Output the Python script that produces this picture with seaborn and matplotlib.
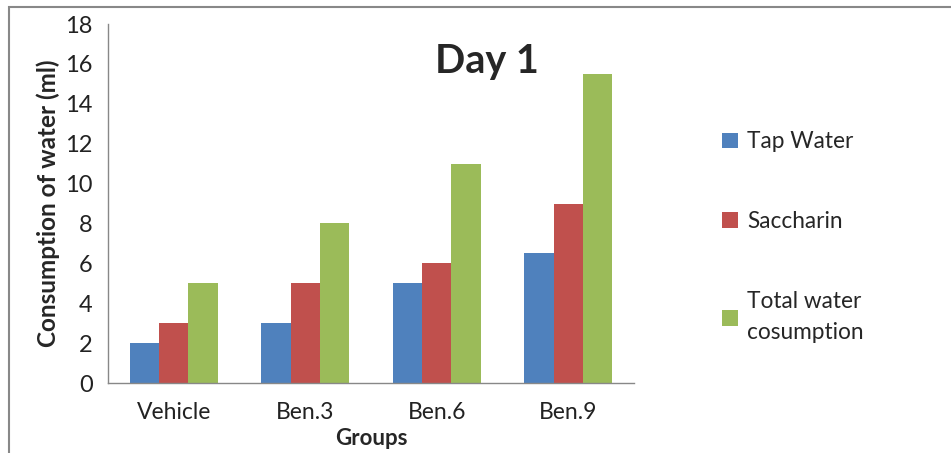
import matplotlib
matplotlib.use("Agg")
import matplotlib.pyplot as plt
import seaborn as sns
import pandas as pd
from matplotlib.patches import Rectangle

groups = ["Vehicle", "Ben.3", "Ben.6", "Ben.9"]
series = ["Tap Water", "Saccharin", "Total water\ncosumption"]
tap_water = [2, 3, 5, 6.5]
saccharin = [3, 5, 6, 9]
total_water = [5, 8, 11, 15.5]
colors = ["#4F81BD", "#C0504D", "#9BBB59"]

rows = []
for s, vals in zip(series, [tap_water, saccharin, total_water]):
    for g, v in zip(groups, vals):
        rows.append({"Group": g, "Series": s, "Value": v})
df = pd.DataFrame(rows)

sns.set_theme(style="white")
plt.rcParams["font.family"] = ["Lato", "DejaVu Sans"]

fig = plt.figure(figsize=(9.51, 4.53), dpi=100)
ax = fig.add_axes([0.1136, 0.1545, 0.553, 0.7925])

sns.barplot(data=df, x="Group", y="Value", hue="Series", palette=colors,
            hue_order=series, order=groups, width=0.67, saturation=1,
            edgecolor="none", ax=ax, legend=True)

ax.set_ylim(0, 18)
ax.set_yticks(range(0, 19, 2))
ax.set_xlim(-0.5, 3.5)
ax.set_xticks([-0.5, 0.5, 1.5, 2.5, 3.5], minor=False)
ax.set_xticklabels([])
ax.set_xticks(range(4), minor=True)
ax.set_xticklabels(groups, minor=True)
ax.tick_params(axis="x", which="major", length=6, width=1, color="#888888", direction="out")
ax.tick_params(axis="x", which="minor", length=0, labelsize=16.5, pad=14, labelcolor="#222222")
ax.tick_params(axis="y", length=6, width=1, color="#888888", direction="out", labelsize=17,
               labelcolor="#222222", pad=5)

for side in ["top", "right"]:
    ax.spines[side].set_visible(False)
for side in ["left", "bottom"]:
    ax.spines[side].set_color("#888888")
    ax.spines[side].set_linewidth(1)

ax.set_ylabel("Consumption of water (ml)", fontsize=17.5, fontweight="bold", labelpad=4)
ax.set_xlabel("Groups", fontsize=16, fontweight="bold")
ax.xaxis.set_label_coords(0.5, -0.155)
ax.xaxis.label.set_va("center")

fig.text(0.512, 0.865, "Day 1", fontsize=28.5, fontweight="bold", ha="center", va="center")

handles, labels = ax.get_legend_handles_labels()
ax.get_legend().remove()
leg = fig.legend(handles, labels, loc="upper left", bbox_to_anchor=(0.750, 0.73), frameon=False,
                 fontsize=16.3, handlelength=0.7, handleheight=0.7, handletextpad=0.4,
                 labelspacing=2.6, borderaxespad=0)
for t in leg.get_texts():
    t.set_linespacing(1.6)

fig.patches.append(Rectangle((0.009, -0.05), 1.5, 1.034, transform=fig.transFigure,
                             fill=False, edgecolor="#888888", linewidth=1.5))

fig.savefig("out.png", dpi=100)
